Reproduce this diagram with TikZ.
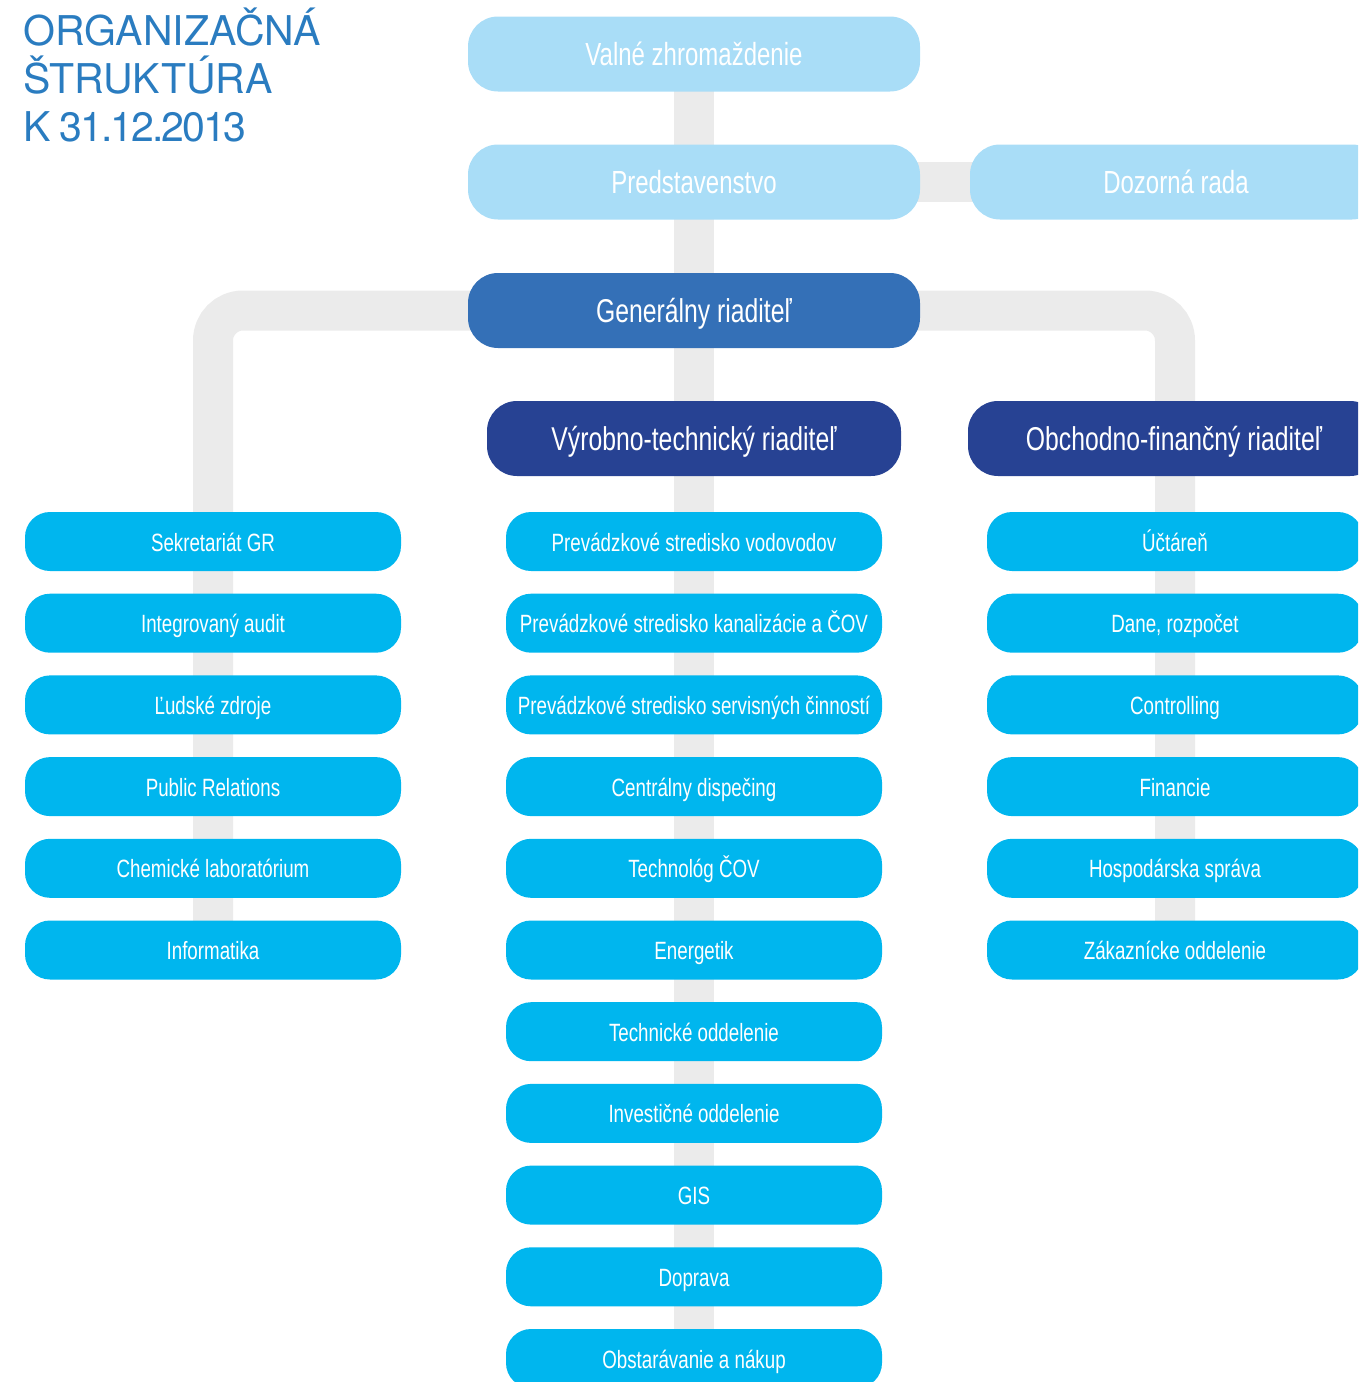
\documentclass[tikz,border=0pt]{standalone}
\usepackage{fontspec}
\newfontfamily\cond{Liberation Sans}[FakeStretch=0.75]
\newfontfamily\titlefont{TeX Gyre Heros}
\newfontfamily\datefont{TeX Gyre Heros}[LetterSpace=-5.0]
\definecolor{lightb}{HTML}{A9DDF7}
\definecolor{genb}{HTML}{3470B7}
\definecolor{navyb}{HTML}{274293}
\definecolor{cyanb}{HTML}{00B6EE}
\definecolor{bandgray}{HTML}{EBEBEB}
\definecolor{titleblue}{HTML}{2A7CC0}
\pgfdeclarelayer{bg}
\pgfsetlayers{bg,main}
\tikzset{
  bigbox/.style={rounded corners=30pt, minimum height=75pt, inner sep=0pt, text=white, text height=22pt, text depth=0pt, font=\cond\fontsize{32}{32}\selectfont},
  topbox/.style={bigbox, fill=lightb},
  genbox/.style={bigbox, fill=genb, text height=23pt, font=\cond\fontsize{33}{33}\selectfont},
  dirbox/.style={bigbox, fill=navyb, text height=23pt, font=\cond\fontsize{33}{33}\selectfont},
  unitbox/.style={rounded corners=25pt, fill=cyanb, minimum width=376pt, minimum height=59pt, inner sep=0pt, text=white, text height=19pt, text depth=0pt, font=\cond\fontsize{25}{25}\selectfont},
  band/.style={draw=bandgray, line width=40pt},
  ttl/.style={anchor=base west, inner sep=0pt, text=titleblue, font=\titlefont\fontsize{41}{41}\selectfont},
}
\begin{document}
\begin{tikzpicture}[x=1pt,y=-1pt]
\useasboundingbox (0,0) rectangle (1358,1382);
\clip (0,0) rectangle (1358,1382);

% title
\node[ttl] (t1) at (23,45) {ORGANIZAČNÁ};
\node[ttl] (t2) at (23,93) {ŠTRUKTÚRA};
\node[ttl, font=\datefont\fontsize{41}{41}\selectfont] (t3) at (23,141) {K 31.12.2013};

% top boxes
\node[topbox, minimum width=452pt] (valne) at (694,54) {Valné zhromaždenie};
\node[topbox, minimum width=452pt] (pred) at (694,182) {Predstavenstvo};
\node[topbox, minimum width=412pt] (dozor) at (1176,182) {Dozorná rada};
\node[genbox, minimum width=452pt] (gen) at (694,310.5) {Generálny riaditeľ};
\node[dirbox, minimum width=414pt] (vtr) at (694,438.5) {Výrobno-technický riaditeľ};
\node[dirbox, minimum width=412pt] (ofr) at (1174,438.5) {Obchodno-finančný riaditeľ};

% left column
\foreach \i/\name/\txt in {0/l0/Sekretariát GR, 1/l1/Integrovaný audit, 2/l2/Ľudské zdroje, 3/l3/Public Relations, 4/l4/Chemické laboratórium, 5/l5/Informatika}{
  \node[unitbox] (\name) at (213,{541.5+81.7*\i}) {\txt};
}
% middle column
\foreach \i/\name/\txt in {0/m0/Prevádzkové stredisko vodovodov, 1/m1/Prevádzkové stredisko kanalizácie a ČOV, 2/m2/Prevádzkové stredisko servisných činností, 3/m3/Centrálny dispečing, 4/m4/Technológ ČOV, 5/m5/Energetik, 6/m6/Technické oddelenie, 7/m7/Investičné oddelenie, 8/m8/GIS, 9/m9/Doprava, 10/m10/Obstarávanie a nákup}{
  \node[unitbox] (\name) at (694,{541.5+81.7*\i}) {\txt};
}
% right column
\foreach \i/\name/\txt in {0/r0/Účtáreň, 1/r1/{Dane, rozpočet}, 2/r2/Controlling, 3/r3/Financie, 4/r4/Hospodárska správa, 5/r5/Zákaznícke oddelenie}{
  \node[unitbox] (\name) at (1175,{541.5+81.7*\i}) {\txt};
}

\begin{pgfonlayer}{bg}
  \draw[band] (valne.center) -- (m10.center);
  \draw[band] (pred.center) -- (dozor.center);
  \draw[band, rounded corners=30pt] (gen.center) -| (l5.center);
  \draw[band, rounded corners=30pt] (gen.center) -| (r5.center);
\end{pgfonlayer}
\end{tikzpicture}
\end{document}
